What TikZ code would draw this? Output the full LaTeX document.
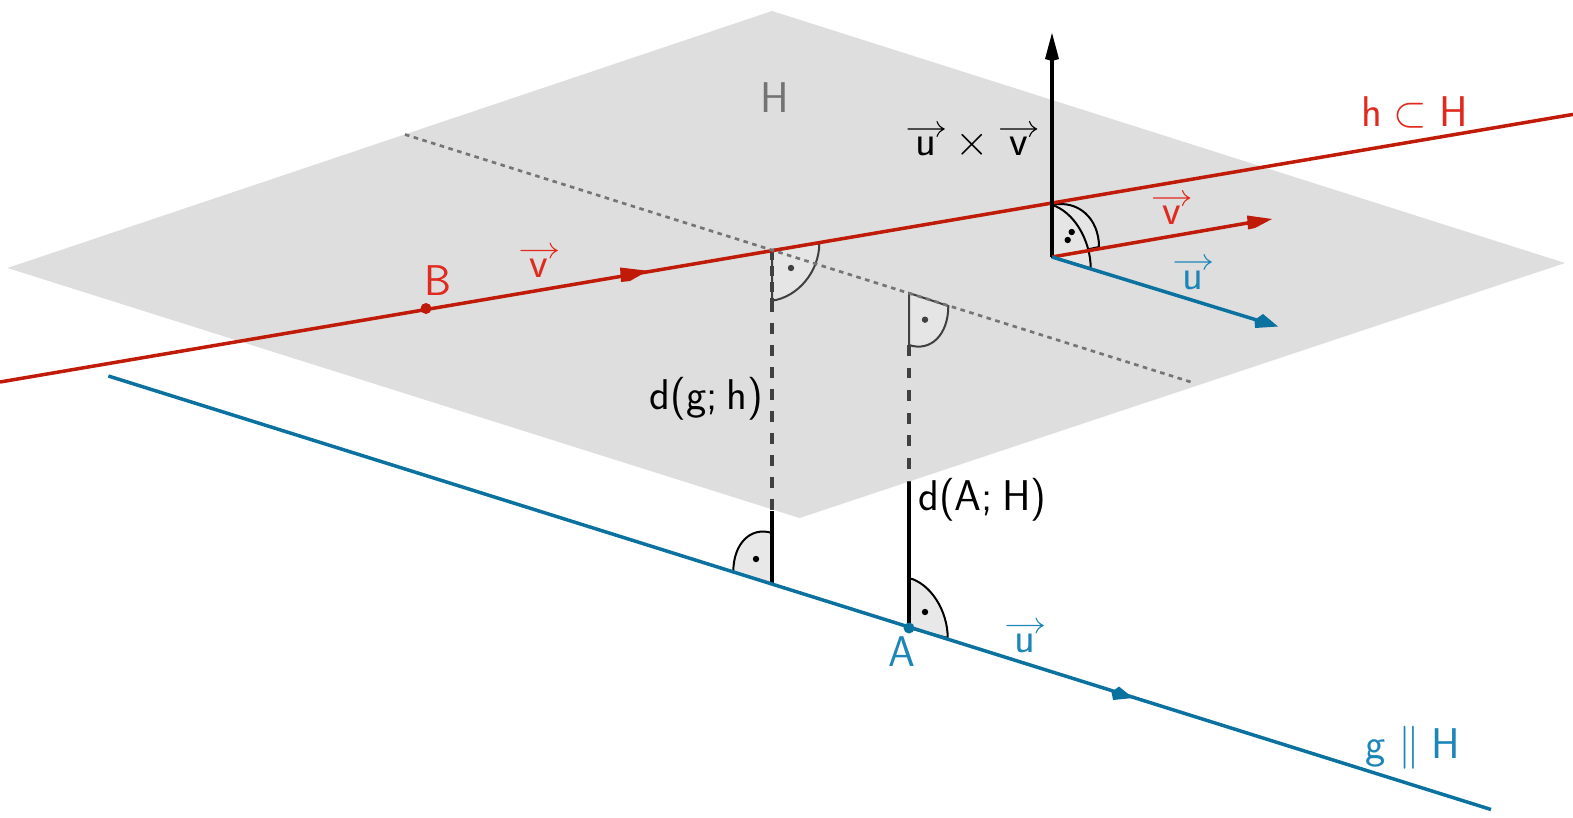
\documentclass[tikz,border=0pt]{standalone}
\usepackage{fix-cm}
\usetikzlibrary{calc}
\definecolor{planeC}{HTML}{DEDEDE}
\definecolor{redL}{HTML}{C01A08}
\definecolor{redT}{HTML}{E02A1E}
\definecolor{blueL}{HTML}{0B729F}
\definecolor{blueT}{HTML}{1C86B8}
\definecolor{hidC}{HTML}{404040}
\definecolor{dotC}{HTML}{757575}
% letter with a long thin vector arrow above it
\newcommand\vecl[4]{%
  \node[txt,#1] (#2) at (#3) {#4};
  \draw[veca,#1] ($(#2.base)+(-18,-27)$) -- ($(#2.base)+(18,-27)$)
     ($(#2.base)+(11,-34.5)$) .. controls ($(#2.base)+(13,-30)$) .. ($(#2.base)+(18,-27)$)
     .. controls ($(#2.base)+(13,-24)$) .. ($(#2.base)+(11,-19.5)$);}
\tikzset{
  txt/.style={font=\sffamily\fontsize{21.5}{26}\selectfont,inner sep=0pt,anchor=base},
  veca/.style={line width=0.55pt,line cap=round},
  hline/.style={line width=1.75pt,redL},
  gline/.style={line width=1.75pt,blueL},
  solidv/.style={line width=1.75pt,black},
  dashv/.style={line width=1.8pt,hidC,dash pattern=on 5.5pt off 5.5pt},
  dottedl/.style={line width=1.35pt,dotC,dash pattern=on 2.3pt off 2.25pt},
  markarc/.style={line width=1pt},
  tick/.style={circle,fill,inner sep=0pt,minimum size=3.2pt},
  pointm/.style={circle,fill,inner sep=0pt,minimum size=5.5pt}
}
\begin{document}
\begin{tikzpicture}[x=0.5pt,y=-0.5pt]
\useasboundingbox (0,0) rectangle (1573,818);
% plane
\fill[planeC] (772,11) -- (1565,263) -- (799.5,518) -- (7.5,268) -- cycle;
% key points
\coordinate (hL) at (0,382);
\coordinate (hR) at (1573,114.4);
\coordinate (gL) at (108.4,376);
\coordinate (gR) at (1491,809.5);
\coordinate (F1) at (772,250);
\coordinate (F2) at (772,584);
\coordinate (F1e) at (772,510.5);
\coordinate (Q1) at (909,293);
\coordinate (A) at (909,628);
\coordinate (Q1e) at (909,482);
\coordinate (O) at (1052,257);
\coordinate (Top) at (1052,40);
\coordinate (Vt) at (1262,220.5);
\coordinate (Ut) at (1268,323.5);
\coordinate (D1) at (405,134.5);
\coordinate (D2) at (1194,383);
\coordinate (B) at (426,308.5);
% wedges
\coordinate (w1a) at (819.3,243.3); \coordinate (w1bp) at (772,300.7);
\filldraw[markarc,draw=hidC,fill=planeC!80!white] (F1) -- (w1a) .. controls ($(w1a)+0.5523*(w1bp)-0.5523*(F1)$) and ($(w1bp)+0.5523*(w1a)-0.5523*(F1)$) .. (w1bp) -- cycle;
\coordinate (w2a) at (948.3,306); \coordinate (w2bp) at (909,345);
\filldraw[markarc,draw=hidC,fill=planeC!80!white] (Q1) -- (w2a) .. controls ($(w2a)+0.5523*(w2bp)-0.5523*(Q1)$) and ($(w2bp)+0.5523*(w2a)-0.5523*(Q1)$) .. (w2bp) -- cycle;
\coordinate (w3a) at (733.3,571.7); \coordinate (w3bp) at (772,533);
\filldraw[markarc,draw=black,fill=black!9] (F2) -- (w3a) .. controls ($(w3a)+0.5523*(w3bp)-0.5523*(F2)$) and ($(w3bp)+0.5523*(w3a)-0.5523*(F2)$) .. (w3bp) -- cycle;
\coordinate (w4a) at (947.7,638); \coordinate (w4bp) at (909,578);
\filldraw[markarc,draw=black,fill=black!9] (A) -- (w4a) .. controls ($(w4a)+0.5523*(w4bp)-0.5523*(A)$) and ($(w4bp)+0.5523*(w4a)-0.5523*(A)$) .. (w4bp) -- cycle;
\coordinate (w5a) at (1099,247); \coordinate (w5bp) at (1052,205);
\filldraw[markarc,draw=black,fill=planeC!80!white] (O) -- (w5a) .. controls ($(w5a)+0.5523*(w5bp)-0.5523*(O)$) and ($(w5bp)+0.5523*(w5a)-0.5523*(O)$) .. (w5bp) -- cycle;
\coordinate (w6a) at (1090.7,268.5);
\filldraw[markarc,draw=black,fill=planeC!80!white] (O) -- (w6a) .. controls ($(w6a)+0.5523*(w5bp)-0.5523*(O)$) and ($(w5bp)+0.5523*(w6a)-0.5523*(O)$) .. (w5bp) -- cycle;
% dots in wedges
\node[tick,hidC] (t1) at (791,268) {};
\node[tick,hidC] (t2) at (925,319.7) {};
\node[tick,black] (t3) at (756,559) {};
\node[tick,black] (t4) at (925,612) {};
\node[tick,black] (t5) at (1071.7,232) {};
\node[tick,black] (t6) at (1067.7,240) {};
% verticals
\draw[dashv] (w1bp) -- (F1e);
\draw[solidv] (F1e) -- (F2);
\draw[dashv,line width=1.7pt,dash pattern=on 5.4pt off 5.9pt] (w2bp) -- (Q1e);
\draw[solidv] (Q1e) -- (A);
\draw[dashv,dash pattern=on 5pt off 3pt] (F1) -- (w1bp);
% lines
\draw[gline] (gL) -- (gR);
\draw[hline] (hL) -- (hR);
\draw[dottedl] (D1) -- (D2);
\draw[solidv] (O) -- (Top);
\draw[hline] (O) -- (Vt);
\draw[gline] (O) -- (Ut);
% arrowheads
\fill[black] (1052,33) -- (1059,59) -- (1052,61) -- (1045,59) -- cycle;
\fill[redL] (1272,219) -- (1247,215.5) -- (1248,229.5) -- (1255,228) -- cycle;
\fill[blueL] (1278,326.5) -- (1263,314) -- (1254.5,320) -- (1255,328) -- cycle;
\fill[redL] (648,270.8) -- (620,267.5) -- (621,282) -- (630,281) -- cycle;
\fill[blueL] (1133,698) -- (1119,686.5) -- (1111.5,692) -- (1113,700) -- cycle;
% points
\node[pointm,redL] (Bp) at (B) {};
\node[pointm,blueL] (Ap) at (A) {};
% labels
\node[txt,black!55] (lH) at (775,113) {H};
\node[txt,redT] (lh) at (1414.5,127) {h\hspace{.28em}$\subset$\hspace{.28em}H};
\node[txt,blueT] (lg) at (1413,758) {g\hspace{.28em}$\parallel$\hspace{.28em}H};
\node[txt,black] (ld1) at (706.5,409) {d(g;\hspace{.22em}h)};
\node[txt,black] (ld2) at (982.5,510) {d(A;\hspace{.22em}H)};
\node[txt,blueT] (lA) at (902,666) {A};
\node[txt,redT] (lB) at (438,295) {B};
\vecl{black}{lu}{926,156}{u}
\node[txt,black] (lx) at (972,156) {$\times$};
\vecl{black}{lv}{1018.5,156}{v}
\vecl{redT}{lv2}{1171.5,225}{v}
\vecl{blueT}{lu2}{1193,289}{u}
\vecl{redT}{lv3}{539,277.5}{v}
\vecl{blueT}{lu3}{1025,652.5}{u}
\end{tikzpicture}
\end{document}
